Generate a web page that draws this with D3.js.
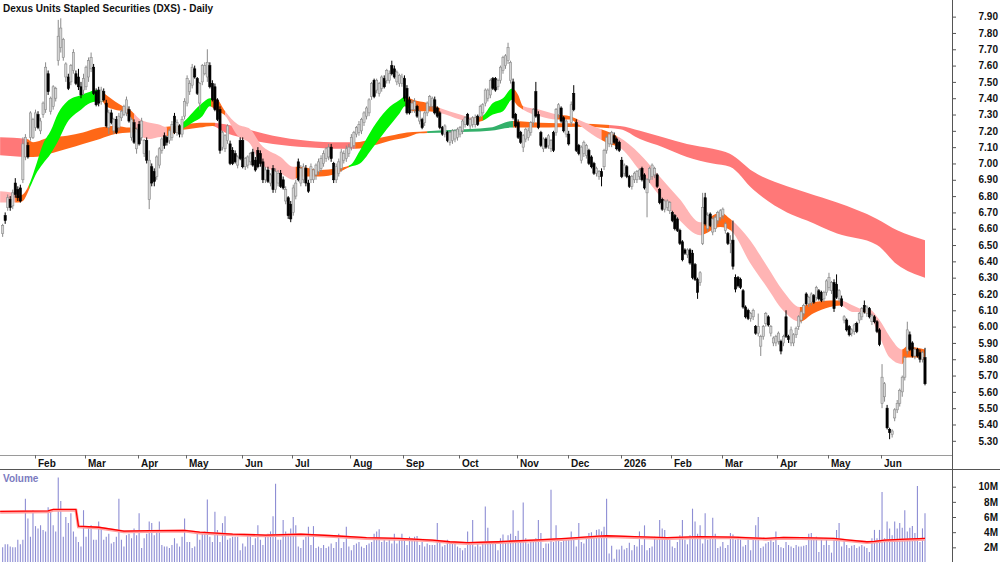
<!DOCTYPE html>
<html>
<head>
<meta charset="utf-8">
<script src="https://cdn.jsdelivr.net/npm/d3@7"></script>
<style>
  body { margin: 0; background: #fff; }
  text { font-family: "Liberation Sans", Arial, sans-serif; font-weight: bold; font-size: 10px; }
</style>
</head>
<body>
<svg id="chart" width="1000" height="562"></svg>
<script>
// daily candles per month, [open, high, low, close] in cents
var jan25 = [[657,663,655,662],[668,670,663,665],[673,681,671,679],[678,680,671,673],[674,684,672,682],[688,691,679,681],[684,686,677,679],[685,687,676,677],[690,716,688,712],[704,718,702,716],[711,713,703,704],[716,732,714,731],[716,728,715,727]];
var feb25 = [[722,733,720,731],[730,732,721,722],[720,728,718,726],[730,738,728,737],[733,762,731,759],[755,757,742,744],[732,741,730,740],[735,748,733,747],[740,747,738,746],[763,788,760,778],[771,789,768,783],[765,777,763,776],[753,762,750,761],[753,755,745,746],[750,761,748,760],[757,770,755,768],[755,757,748,749],[753,758,745,747],[747,750,740,742],[745,755,742,752]];
var mar25 = [[747,760,745,759],[753,765,750,763],[758,768,756,765],[759,761,742,743],[744,746,735,736],[745,747,735,737],[738,747,736,745],[744,746,738,739],[737,739,722,723],[722,733,718,731],[731,733,724,725],[720,728,718,727],[727,729,718,719],[722,731,720,729],[728,733,726,732],[730,736,729,735],[731,741,729,739],[733,735,725,726],[716,728,714,727],[725,727,712,713],[709,722,706,721]];
var apr25 = [[724,726,711,712],[716,728,714,726],[706,715,704,714],[714,716,700,702],[678,708,672,702],[698,700,686,688],[695,697,686,689],[692,705,690,704],[699,710,697,709],[708,716,706,715],[717,719,709,711],[716,717,711,713],[714,721,712,720],[716,726,714,724],[729,731,718,719],[719,727,717,725],[723,724,716,718],[718,729,716,727],[729,740,727,738]];
var may25 = [[737,754,735,752],[744,751,742,749],[748,761,746,759],[758,760,752,753],[752,753,742,743],[737,750,733,749],[750,761,748,760],[755,762,754,760],[753,770,750,762],[760,762,746,747],[749,751,738,739],[747,749,732,733],[739,740,726,727],[733,735,706,708],[710,720,708,719],[709,718,707,717],[714,724,712,723],[712,714,699,700],[708,710,699,700],[706,708,700,701],[699,705,697,704],[714,716,702,703]];
var jun25 = [[714,716,697,698],[698,704,696,703],[699,705,697,704],[701,707,699,706],[707,709,698,699],[702,704,695,696],[708,710,697,698],[706,708,698,700],[701,703,688,690],[690,698,688,696],[696,698,688,689],[688,694,686,693],[697,699,682,684],[684,697,682,695],[688,696,686,694],[694,696,685,686],[690,692,684,685],[677,686,675,684],[679,680,666,668],[675,677,664,666]];
var jul25 = [[670,687,668,685],[680,690,678,688],[701,703,689,690],[688,699,686,697],[690,700,688,698],[697,699,686,688],[688,690,682,683],[690,700,688,698],[690,697,688,696],[693,700,690,699],[695,703,693,701],[697,705,695,703],[700,708,698,706],[703,710,701,709],[704,712,702,710],[710,712,701,703],[700,701,688,690],[690,700,688,698],[694,703,692,701],[697,709,695,707],[702,708,700,706],[703,711,701,709],[706,712,704,710]];
var aug25 = [[710,718,708,716],[711,720,709,719],[718,723,716,722],[719,726,717,724],[720,728,718,727],[725,732,723,731],[729,735,727,734],[731,740,729,739],[741,750,739,749],[751,752,740,741],[745,752,743,751],[743,750,741,749],[746,754,744,753],[752,754,746,747],[751,758,749,757],[751,757,749,755],[760,763,754,755],[758,760,752,753],[750,757,748,756],[749,755,747,754],[749,755,747,753]];
var sep25 = [[752,754,738,740],[746,748,730,731],[739,741,730,731],[733,739,731,737],[733,740,731,738],[735,736,728,729],[726,733,724,732],[727,728,721,722],[725,732,723,731],[731,738,729,737],[735,742,733,741],[735,741,733,740],[739,741,730,731],[734,735,728,729],[731,732,721,722],[722,723,717,718],[718,724,716,723],[719,720,713,714],[713,720,711,719],[714,721,712,720],[715,721,713,720],[716,722,714,721]];
var oct25 = [[718,723,716,722],[720,727,718,726],[724,729,722,728],[730,731,723,724],[723,728,721,727],[724,729,722,728],[724,730,722,728],[729,730,723,724],[729,736,727,735],[731,737,729,736],[737,746,735,745],[740,746,738,745],[742,752,740,751],[752,753,745,746],[752,753,744,745],[747,752,745,751],[751,760,749,759],[757,766,755,765],[760,767,758,766],[763,774,761,771],[751,763,749,762],[750,752,727,728],[730,731,722,723]];
var nov25 = [[725,727,715,716],[719,720,712,713],[710,718,707,717],[715,722,713,721],[716,722,714,720],[719,726,717,725],[725,734,723,733],[744,750,728,729],[730,732,721,722],[719,720,710,711],[709,716,707,715],[715,716,709,710],[711,718,709,717],[709,715,707,714],[719,720,707,708],[719,734,717,733],[730,737,728,736],[734,735,725,726],[728,729,719,720],[718,727,716,726]];
var dec25 = [[718,720,711,712],[725,738,723,736],[743,748,732,733],[725,727,707,708],[711,712,705,706],[702,711,700,710],[706,714,704,713],[705,712,703,711],[708,709,699,700],[704,705,697,698],[700,701,693,694],[694,698,692,697],[692,696,690,695],[695,697,686,692],[698,709,696,708],[708,717,706,716],[712,719,710,718],[712,720,710,719],[717,719,712,713],[715,716,708,709],[713,714,707,708]];
var jan26 = [[702,704,691,692],[694,700,692,699],[698,699,691,692],[692,693,685,686],[686,693,684,692],[690,695,688,694],[690,696,688,695],[692,697,690,696],[697,698,689,690],[693,694,684,685],[682,691,667,690],[690,698,688,697],[692,700,690,699],[693,698,691,697],[693,694,685,686],[684,685,675,676],[678,679,671,672],[672,678,670,677],[673,678,671,677],[671,677,669,676]];
var feb26 = [[670,671,664,665],[668,669,659,660],[666,667,658,659],[659,660,650,651],[652,653,640,641],[647,648,644,645],[644,648,642,647],[647,648,638,639],[645,647,629,630],[638,639,628,629],[629,630,617,621],[627,634,625,633],[651,682,650,673],[679,682,662,663],[660,670,658,668],[669,670,661,662],[658,667,656,666],[660,668,658,667],[665,671,663,670],[667,672,665,671]];
var mar26 = [[668,673,666,672],[659,664,657,663],[657,658,650,651],[651,656,645,653],[653,665,635,637],[630,632,621,623],[630,631,624,625],[629,630,623,624],[622,623,611,612],[612,613,605,606],[610,611,604,605],[605,609,603,608],[606,611,604,610],[600,601,595,596],[596,608,594,600],[588,595,582,594],[594,601,592,600],[602,609,600,608],[606,607,600,601],[596,601,594,600],[590,594,588,593],[590,595,588,594]];
var apr26 = [[591,597,589,596],[591,592,583,585],[590,595,588,594],[606,610,593,594],[594,595,590,592],[590,600,588,598],[590,596,588,595],[595,600,593,599],[600,607,598,606],[604,610,602,609],[608,614,606,613],[620,621,613,614],[614,619,612,618],[615,621,613,620],[619,620,614,615],[618,625,616,624],[622,623,616,617],[621,622,615,616],[617,622,615,621],[621,629,619,628]];
var may26 = [[624,633,622,630],[622,628,620,627],[627,629,609,611],[626,632,617,618],[617,623,615,622],[617,619,612,613],[604,607,602,606],[604,605,597,598],[600,601,594,595],[596,599,594,598],[597,602,595,601],[602,603,596,597],[604,609,602,608],[606,612,604,611],[613,616,608,609],[608,613,606,612],[611,612,605,606],[603,608,601,607],[606,607,602,603],[603,604,596,597],[598,599,588,589]];
var jun26 = [[553,577,550,569],[557,566,554,565],[550,552,537,538],[537,538,531,535],[534,537,532,536],[544,550,542,549],[549,555,547,553],[553,562,551,561],[560,570,557,569],[569,582,567,581],[585,603,583,598],[595,597,585,586],[590,591,581,582],[582,587,580,586],[586,587,581,582],[584,586,578,580],[580,585,578,584],[581,587,564,565]];

var monthBars = [jan25, feb25, mar25, apr25, may25, jun25, jul25, aug25, sep25, oct25, nov25, dec25, jan26, feb26, mar26, apr26, may26, jun26];
var monthLabels = ["", "Feb", "Mar", "Apr", "May", "Jun", "Jul", "Aug", "Sep", "Oct", "Nov", "Dec", "2026", "Feb", "Mar", "Apr", "May", "Jun"];

// volume in millions, first and second half
var volumeA = [2.0,2.4,2.4,2.1,2.0,2.0,3.0,2.4,3.0,8.4,5.8,3.4,6.9,4.8,4.5,4.9,4.3,4.1,7.3,6.8,4.9,4.1,11.2,8.1,3.4,6.0,5.2,6.5,4.1,3.4,2.7,2.1,6.9,3.4,4.7,4.9,3.0,3.0,5.4,4.5,3.0,3.4,3.8,2.5,2.7,3.4,8.4,3.0,2.1,3.6,3.8,3.2,4.5,3.6,6.5,1.9,3.2,3.8,5.4,5.2,3.6,4.1,5.4,2.3,2.1,2.1,1.9,2.3,3.2,2.5,2.1,3.4,5.8,2.7,2.7,1.9,2.1,3.8,3.0,3.8,4.1,8.3,3.4,2.7,6.7,4.3,2.7,5.2,6.1,3.0,3.2,3.4,3.4,3.4,1.6,2.5,2.1,3.6,3.4,2.3,3.2,4.9,3.0,2.3,3.4,3.8,4.1,6.1,10.4,3.0,3.0,5.6,4.1,3.8,4.5,6.0,4.9,2.1,1.9,3.0,3.4,4.7,2.3,4.8,1.9,2.1,1.9,2.3,1.9,2.1,2.5,1.9,2.7,3.8,1.9,2.7,4.7,2.1,1.6,2.3,2.5,2.7,2.1,1.9,2.3,2.5,2.7,3.8,4.1,4.4,2.7,3.2,2.7,3.0,2.5,3.8,2.5,3.2,3.8,3.2,2.3,3.4,3.2,3.4,3.5,2.3,2.7,2.1,2.5,2.3,2.3,2.3,5.2,2.7,2.1,2.3,3.0,2.5,2.7,2.7,2.1,1.9,1.6,1.9,4.1,2.3,5.6,2.1,2.5,2.1,2.7,7.4,4.6,2.7,2.5,2.6,1.6];
var volumeB = [3.2,3.7,2.7,3.6,3.8,6.9,3.5,4.2,2.7,7.9,3.2,2.5,3.0,3.0,3.2,5.6,3.9,1.9,2.5,2.5,9.6,2.7,4.9,2.9,2.7,3.0,3.0,3.0,4.1,3.2,2.1,5.2,2.7,2.5,3.2,3.9,4.0,3.2,4.3,4.4,4.1,4.7,8.4,1.2,2.2,0.5,1.7,1.7,2.2,1.7,1.9,2.6,1.6,2.3,2.1,4.1,2.3,4.9,1.6,1.9,2.1,3.4,3.0,5.6,4.5,4.3,3.0,3.0,2.1,1.9,2.7,3.6,5.6,3.0,2.4,3.6,7.1,5.4,3.8,4.9,2.5,6.5,3.0,3.4,5.9,3.8,1.9,2.1,2.7,1.9,2.3,3.9,3.7,3.0,3.4,3.0,2.1,2.3,3.0,1.6,3.0,4.9,6.0,1.9,2.1,2.5,2.7,3.0,2.7,4.1,2.3,2.0,1.9,2.7,2.3,2.1,1.9,2.3,2.1,2.1,2.2,2.3,3.8,3.9,3.0,3.4,1.4,3.0,2.3,3.2,2.3,1.3,3.2,4.3,5.2,2.1,3.0,2.3,1.9,2.2,2.3,1.9,2.1,2.3,2.1,1.9,1.4,3.2,4.3,3.2,4.3,9.3,3.2,5.4,4.5,3.6,5.4,4.5,5.2,4.6,6.9,4.1,4.6,4.8,3.9,10.1,2.7,4.5,6.5];

// volume moving average, read at bar positions
var volMaBars = [-1, 18, 20, 29, 30, 38, 48, 58, 72, 78, 91, 104, 118, 131, 144, 157, 170, 177, 184, 196, 210, 223, 236, 239, 250, 263, 276, 289, 302, 309, 316, 329, 335, 342, 345, 349, 355, 365];
var volMaValues = [6.75, 6.8, 7.0, 7.0, 4.8, 4.65, 4.15, 4.2, 4.25, 4.0, 3.75, 3.62, 3.75, 3.53, 3.27, 3.18, 2.96, 2.74, 2.61, 2.74, 2.96, 3.18, 3.49, 3.53, 3.4, 3.27, 3.4, 3.36, 3.18, 3.31, 3.27, 3.18, 2.96, 2.74, 2.8, 2.96, 3.05, 3.18];

// short-term ribbon edges (bar, upper, lower in cents)
var shortBars = [-1, 4, 6, 8, 11, 13, 16, 19, 22, 25.5, 31, 34.6, 37, 39.3, 41, 44.5, 47.6, 50.4, 54.4, 58.3, 61.5, 65.4, 68.6, 72, 75, 79, 82, 85, 87.6, 93, 98, 102, 110, 115, 117.7, 125.6, 132.3, 137.5, 141.4, 146.6, 152, 157.2, 159.2, 162.4, 168, 173, 181, 186, 189.7, 194, 198, 201.6, 204, 206, 212.6, 219.4, 224.5, 227.7, 235, 240.3, 244, 252, 260, 268, 276, 284, 288, 295.8, 302.5, 308.8, 315.5, 320.7, 327.4, 331.4, 336.5, 340, 342.4, 347, 351, 355.9, 357.9, 361.8, 365];
var shortHigh = [683, 682, 680, 681, 689, 698, 712, 720, 731, 738, 742, 744, 745, 744, 742, 738, 735, 733, 727, 725, 724, 722, 722, 726, 731, 737, 740, 739, 733, 724, 721, 712, 704, 698, 698, 696, 697, 699, 708, 722, 733, 739, 741, 739, 737, 734, 730, 728, 729, 737, 740, 746, 742, 735, 733, 730, 729, 727, 722, 719, 716, 706, 692, 678, 664, 670, 666, 653, 637, 622, 612, 615, 616, 616, 613, 611, 611, 604, 594, 586, 588, 587, 586];
var shortLow = [676, 676, 676, 677, 686, 693, 700, 706, 714, 725, 733, 737, 738, 738, 735, 733, 732, 729, 717, 715, 716, 717, 719, 722, 725, 729, 735, 732, 730, 717, 712, 700, 694, 690, 692, 692, 694, 698, 700, 710, 721, 731, 735, 732, 732, 731, 727, 725, 726, 730, 732, 739, 735, 733, 729, 727, 727, 724, 716, 712, 710, 696, 680, 665, 656, 661, 659, 639, 624, 610, 603, 608, 612, 613, 609, 609, 608, 594, 581, 577, 581, 581, 579];
var shortRuns = [[-1, "pink"], [5, "orange"], [10.5, "green"], [39.5, "orange"], [52, "pink"], [65, "orange"], [70, "green"], [82.5, "orange"], [88, "pink"], [116, "orange"], [137, "green"], [159.5, "orange"], [173, "pink"], [186, "orange"], [190, "green"], [202, "orange"], [206, "pink"], [219, "orange"], [227.5, "pink"], [237, "orange"], [243, "pink"], [276.5, "orange"], [288.5, "pink"], [315.5, "orange"], [331.5, "pink"], [340, "orange"], [342.5, "pink"], [356, "orange"]];

// long-term ribbon edges
var longBars = [-1, 9.6, 12, 18.7, 25.5, 31.8, 38.5, 44.5, 50.4, 58.3, 68.2, 78, 83, 88, 94, 107, 120.5, 133.6, 139.5, 146.6, 153.3, 160, 165, 177, 192.8, 201.6, 212.6, 227.3, 244.3, 252.2, 261.3, 270.8, 281, 287.8, 297, 310.4, 318.3, 330.2, 346, 354, 365];
var longHigh = [716, 715, 713, 716, 717, 719, 722, 723, 722, 722, 723, 725, 725, 724, 722, 717, 714, 713, 713, 715, 717, 719, 719.5, 720.5, 722, 726, 725, 724.5, 723, 720, 716, 712, 709, 706, 695, 686, 682, 676, 666, 659, 653];
var longLow = [705, 704, 704, 706, 709, 712, 715, 718, 719, 719, 720, 722, 723, 719, 716, 712, 710, 709, 709, 711, 714, 716, 718.5, 719, 720, 722, 722, 722.5, 721, 715, 710, 704, 700, 698, 684, 670, 665, 657, 650, 638, 630];
var longRuns = [[-1, "red"], [9.5, "orange"], [84, "red"], [139.5, "orange"], [168, "dkgreen"], [202, "orange"], [240, "red"]];

var ribbonColor = { pink: "#ffb4b4", orange: "#ff6817", green: "#00f500", red: "#ff7878", dkgreen: "#33b06a" };

var svg = d3.select("#chart");
var axisX = 952, priceBottom = 455;

// flatten the months
var candles = [];
var monthStarts = [];
monthBars.forEach(function(m, k) {
  monthStarts.push({ label: monthLabels[k], i: candles.length });
  m.forEach(function(c) {
    candles.push({ i: candles.length, o: c[0], h: c[1], l: c[2], c: c[3] });
  });
});
var volumes = volumeA.concat(volumeB);

var x = d3.scaleLinear().domain([0, 365]).range([2.65, 925]);
var y = d3.scaleLinear().domain([521.3, 800.2]).range([priceBottom, 0]);
var yv = d3.scaleLinear().domain([0, 12.07]).range([562.5, 471]);

svg.append("clipPath").attr("id", "pricePanel")
   .append("rect").attr("x", 0).attr("y", 0).attr("width", axisX).attr("height", priceBottom);

var plot = svg.append("g").attr("clip-path", "url(#pricePanel)");

// ribbons, one clipped copy per colour run
function ribbon(name, bars, hi, lo, runs) {
  var pts = bars.map(function(b, k) { return { b: b, hi: hi[k], lo: lo[k] }; });
  var area = d3.area()
      .x(function(d) { return x(d.b); })
      .y0(function(d) { return y(d.lo); })
      .y1(function(d) { return y(d.hi); })
      .curve(d3.curveMonotoneX);
  runs.forEach(function(r, k) {
    var x0 = k === 0 ? 0 : x(r[0]);
    var x1 = k === runs.length - 1 ? axisX : x(runs[k + 1][0]);
    var id = name + k;
    svg.append("clipPath").attr("id", id)
       .append("rect").attr("x", x0).attr("y", 0).attr("width", x1 - x0 + 0.3).attr("height", priceBottom);
    plot.append("path")
        .datum(pts)
        .attr("clip-path", "url(#" + id + ")")
        .attr("fill", ribbonColor[r[1]])
        .attr("d", area);
  });
}
ribbon("long", longBars, longHigh, longLow, longRuns);
ribbon("short", shortBars, shortHigh, shortLow, shortRuns);

// candles
var candle = plot.selectAll("g.candle")
    .data(candles)
    .enter().append("g")
    .attr("class", "candle");

candle.append("line")
    .attr("x1", function(d) { return x(d.i); })
    .attr("x2", function(d) { return x(d.i); })
    .attr("y1", function(d) { return y(d.h); })
    .attr("y2", function(d) { return y(d.l); })
    .attr("stroke", function(d) { return d.c >= d.o ? "#8a8a8a" : "#000"; })
    .attr("stroke-width", 1);

candle.append("rect")
    .attr("x", function(d) { return x(d.i) - 1.1; })
    .attr("width", 2.2)
    .attr("y", function(d) { return y(Math.max(d.o, d.c)); })
    .attr("height", function(d) { return Math.max(1, Math.abs(y(d.o) - y(d.c))); })
    .attr("fill", function(d) { return d.c >= d.o ? "#d4d4d4" : "#000"; })
    .attr("stroke", function(d) { return d.c >= d.o ? "#8a8a8a" : "#000"; })
    .attr("stroke-width", 0.6);

// title
svg.append("text")
   .attr("x", 3)
   .attr("y", 11.5)
   .attr("fill", "#111")
   .text("Dexus Units Stapled Securities (DXS) - Daily");

// date strip
svg.append("line").attr("x1", 0).attr("x2", axisX).attr("y1", 455.5).attr("y2", 455.5)
   .attr("stroke", "#9a9a9a");
svg.append("line").attr("x1", 0).attr("x2", 1000).attr("y1", 469.5).attr("y2", 469.5)
   .attr("stroke", "#555");

var months = svg.selectAll("g.month")
    .data(monthStarts.filter(function(m) { return m.label !== ""; }))
    .enter().append("g")
    .attr("class", "month")
    .attr("transform", function(d) { return "translate(" + Math.round(x(d.i) - 1) + ",0)"; });
months.append("line").attr("x1", 0.5).attr("x2", 0.5).attr("y1", 455).attr("y2", 458.5).attr("stroke", "#666");
months.append("text").attr("x", 3).attr("y", 466.5).attr("fill", "#111").text(function(d) { return d.label; });

// price axis
var priceAxis = d3.axisRight(y)
    .tickValues(d3.range(530, 791, 10))
    .tickFormat(function(d) { return (d / 100).toFixed(2); })
    .tickSize(4)
    .tickPadding(0);
var pa = svg.append("g").attr("transform", "translate(" + axisX + ",0)").call(priceAxis);
pa.select(".domain").remove();
pa.selectAll(".tick line").attr("stroke", "#555");
pa.selectAll(".tick text").attr("x", 46).attr("text-anchor", "end").attr("fill", "#111")
  .style("font-size", "10px").style("font-family", "'Liberation Sans', Arial, sans-serif").style("font-weight", "bold");

// volume panel
svg.append("text").attr("x", 3).attr("y", 481.5).attr("fill", "#7b7bc0").text("Volume");

svg.append("g").selectAll("line")
   .data(volumes)
   .enter().append("line")
   .attr("x1", function(d, i) { return x(i); })
   .attr("x2", function(d, i) { return x(i); })
   .attr("y1", function(d) { return yv(d); })
   .attr("y2", 562.5)
   .attr("stroke", "#8d8dd4")
   .attr("stroke-width", 1.1);

var maPts = volMaBars.map(function(b, k) { return [b, volMaValues[k]]; });
var maLine = d3.line()
    .x(function(d) { return Math.max(0, x(d[0])); })
    .y(function(d) { return yv(d[1]); });
svg.append("path").datum(maPts).attr("d", maLine)
   .attr("fill", "none").attr("stroke", "#ffa0a0").attr("stroke-width", 3).attr("transform", "translate(0,0.8)");
svg.append("path").datum(maPts).attr("d", maLine)
   .attr("fill", "none").attr("stroke", "#ff0000").attr("stroke-width", 1.3);

var volAxis = d3.axisRight(yv)
    .tickValues([2, 4, 6, 8, 10])
    .tickFormat(function(d) { return d + "M"; })
    .tickSize(4)
    .tickPadding(0);
var va = svg.append("g").attr("transform", "translate(" + axisX + ",0)").call(volAxis);
va.select(".domain").remove();
va.selectAll(".tick line").attr("stroke", "#555");
va.selectAll(".tick text").attr("x", 46).attr("text-anchor", "end").attr("fill", "#111")
  .style("font-size", "10px").style("font-family", "'Liberation Sans', Arial, sans-serif").style("font-weight", "bold");

// vertical axis line
svg.append("line").attr("x1", axisX + 0.5).attr("x2", axisX + 0.5).attr("y1", 0).attr("y2", 562)
   .attr("stroke", "#555");
</script>
</body>
</html>
